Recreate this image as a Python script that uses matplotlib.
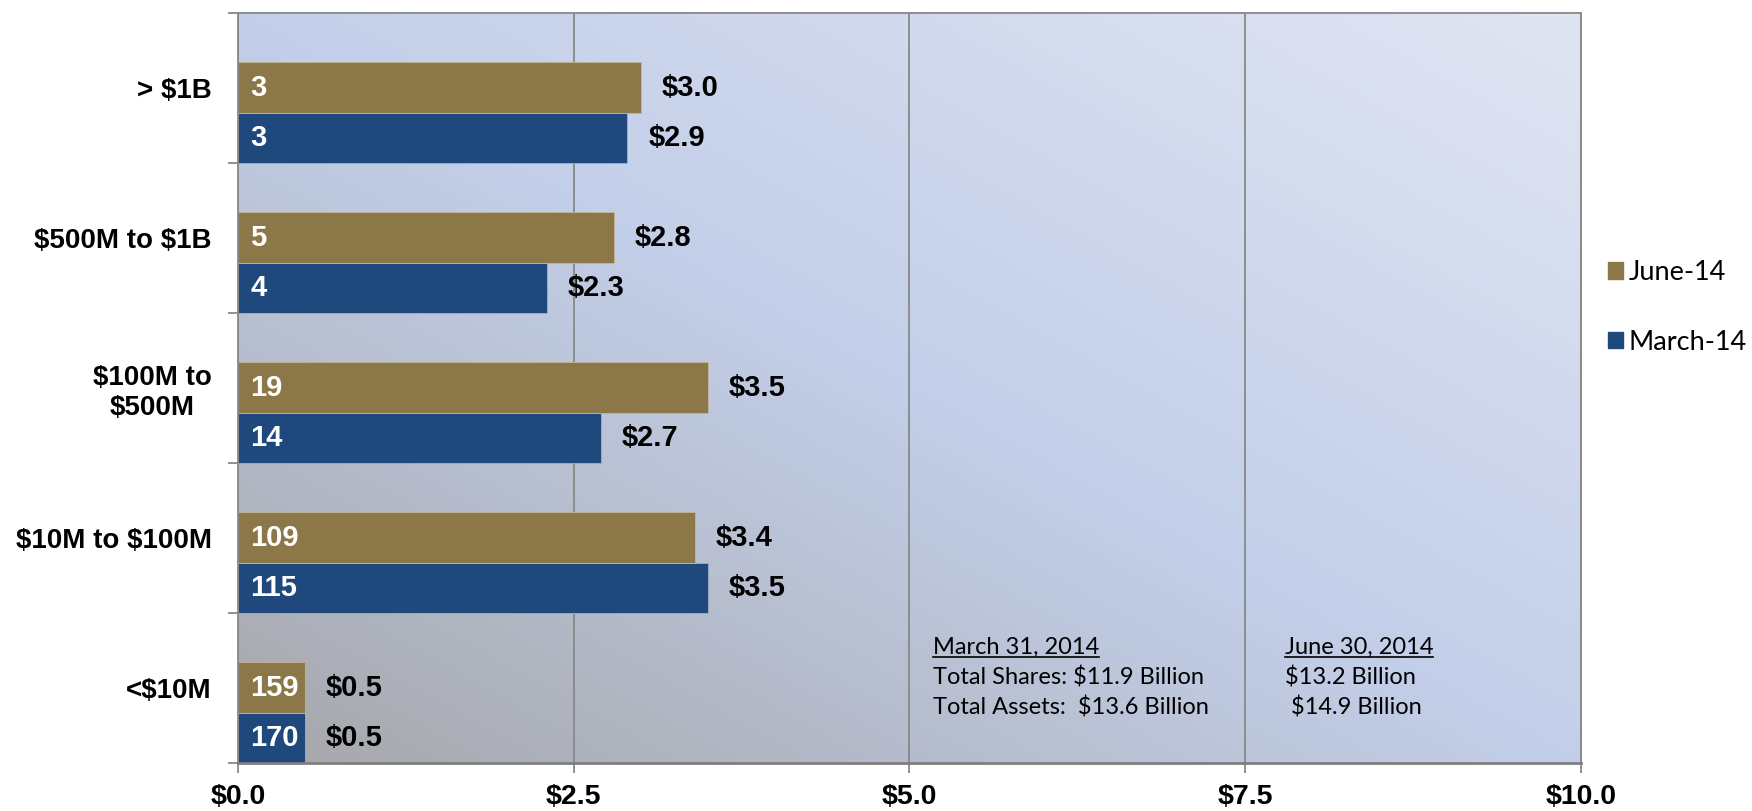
import matplotlib
matplotlib.use("Agg")
import matplotlib.pyplot as plt
import numpy as np
from matplotlib.colors import LinearSegmentedColormap
from matplotlib.lines import Line2D
from matplotlib.patches import Patch
from matplotlib.ticker import FuncFormatter
from matplotlib.transforms import IdentityTransform

# bottom to top
categories = ["<$10M", "$10M to $100M", "$100M to\n$500M", "$500M to $1B", "> $1B"]
march_assets = [0.5, 3.5, 2.7, 2.3, 2.9]
june_assets = [0.5, 3.4, 3.5, 2.8, 3.0]
march_counts = [170, 115, 14, 4, 3]
june_counts = [159, 109, 19, 5, 3]
series_names = ["June-14", "March-14"]
x_ticks = [0, 2.5, 5, 7.5, 10]
note_left = ["March 31, 2014", "Total Shares: $11.9 Billion", "Total Assets:  $13.6 Billion"]
note_right = ["June 30, 2014", "$13.2 Billion", " $14.9 Billion"]

gold = "#8b7747"
navy = "#1f497d"
line_gray = "#888888"
bold_font = "Liberation Sans"
plain_font = "Lato"

plt.rcParams["font.family"] = [bold_font, "DejaVu Sans"]
plt.rcParams["text.parse_math"] = False

fig = plt.figure(figsize=(17.52, 8.11), dpi=100)
ax = fig.add_axes([0.1358, 0.0592, 0.7666, 0.9248])

# diagonal gradient background
gx, gy = np.meshgrid(np.linspace(0, 1, 400), np.linspace(0, 1, 200))
bg = LinearSegmentedColormap.from_list("bg", ["#a6a7ab", "#c3cfe9", "#e0e5f2"])
ax.imshow((gx + gy) / 2, cmap=bg, extent=[0, 10, 0, 5], origin="lower",
          aspect="auto", zorder=0, interpolation="bilinear")

y = np.arange(len(categories))
h = 0.335
ax.barh(y, march_assets, height=h, align="edge", color=navy, edgecolor="#9fb0c8", lw=0.6, zorder=2)
ax.barh(y + h, june_assets, height=h, align="edge", color=gold, edgecolor="#c2b899", lw=0.6, zorder=2)

lab_kw = dict(textcoords="offset points", va="center", fontsize=21, fontweight="bold")
for i in range(len(categories)):
    ax.annotate(f"${march_assets[i]:.1f}", (march_assets[i], y[i] + h / 2), xytext=(15, 0),
                ha="left", color="black", **lab_kw)
    ax.annotate(f"${june_assets[i]:.1f}", (june_assets[i], y[i] + 1.5 * h), xytext=(15, 0),
                ha="left", color="black", **lab_kw)
    ax.annotate(str(march_counts[i]), (0, y[i] + h / 2), xytext=(9, 0),
                ha="left", color="white", **lab_kw)
    ax.annotate(str(june_counts[i]), (0, y[i] + 1.5 * h), xytext=(9, 0),
                ha="left", color="white", **lab_kw)

ax.set_xlim(0, 10)
ax.set_ylim(0, 5)
ax.set_axisbelow(True)
ax.xaxis.grid(True, color=line_gray, lw=1.3)

ax.set_xticks(x_ticks)
ax.xaxis.set_major_formatter(FuncFormatter(lambda v, p: f"${v:.1f}"))
ax.tick_params(axis="x", length=7, width=1.3, color=line_gray, pad=8, labelsize=20.5)
ax.set_yticks(y + 1.5 * h, labels=categories)
ax.tick_params(axis="y", which="major", length=0, pad=19, labelsize=20)
ax.set_yticks(np.arange(len(categories) + 1), minor=True)
ax.tick_params(axis="y", which="minor", length=7, width=1.3, color=line_gray)
for lab in ax.get_xticklabels() + ax.get_yticklabels():
    lab.set_fontweight("bold")
for lab in ax.get_yticklabels():
    lab.set_multialignment("center")

for s in ["left", "top", "right"]:
    ax.spines[s].set_color(line_gray)
    ax.spines[s].set_linewidth(1.3)
ax.spines["bottom"].set_color("#7f7f7f")
ax.spines["bottom"].set_linewidth(2)

fig.legend(handles=[Patch(color=gold, label=series_names[0]), Patch(color=navy, label=series_names[1])],
           loc="center left", bbox_to_anchor=(1594 / 1752, 0.621), frameon=False,
           handlelength=0.57, handleheight=0.57, handletextpad=0.2, labelspacing=1.65,
           borderpad=0, prop={"family": plain_font, "size": 19.5})

# summary notes in the plot area
renderer = fig.canvas.get_renderer()
for col_x, lines in [(0.5175, note_left), (0.7796, note_right)]:
    for j, line in enumerate(lines):
        t = ax.text(col_x, 0.1453 - j * 0.0405, line, transform=ax.transAxes, ha="left",
                    va="baseline", fontsize=17, family=plain_font, color="black", zorder=3)
        if j == 0:
            bb = t.get_window_extent(renderer)
            base = ax.transAxes.transform((col_x, 0.1453))[1] - 3
            fig.add_artist(Line2D([bb.x0, bb.x1], [base, base], transform=IdentityTransform(),
                                  color="black", lw=1.2))

fig.savefig("out.png", dpi=100)
